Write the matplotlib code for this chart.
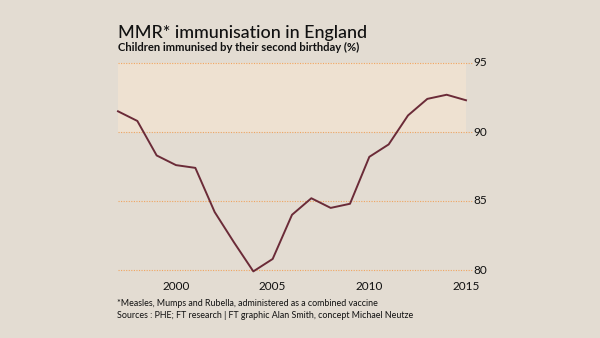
import matplotlib.pyplot as plt

# MMR immunisation by second birthday, England (%)
years = [1997, 1998, 1999, 2000, 2001, 2002, 2003, 2004, 2005, 2006,
         2007, 2008, 2009, 2010, 2011, 2012, 2013, 2014, 2015]
coverage = [91.5, 90.8, 88.3, 87.6, 87.4, 84.2, 82.0, 79.9, 80.8, 84.0,
            85.2, 84.5, 84.8, 88.2, 89.1, 91.2, 92.4, 92.7, 92.3]
yticks = [80, 85, 90, 95]
xticks = [2000, 2005, 2010, 2015]

bg = '#e3dcd2'
band = '#eee1d1'
line_col = '#6b2b38'
grid_col = '#f0a560'

plt.rcParams['font.family'] = ['Lato', 'DejaVu Sans']

fig = plt.figure(figsize=(6, 3.38), dpi=100, facecolor=bg)
ax = fig.add_axes([118 / 600, 1 - 270 / 338, 348 / 600, 207 / 338])
ax.set_facecolor(bg)

# target band 90-95
ax.axhspan(90, 95, color=band, zorder=0, lw=0)

for v in yticks:
    ax.axhline(v, xmin=0, xmax=1.017, color=grid_col, lw=0.8,
               linestyle=(0, (1, 1.3)), clip_on=False, zorder=1)
    ax.text(1.022, v, str(v), transform=ax.get_yaxis_transform(),
            ha='left', va='center', fontsize=8.5, color='#111111')

ax.plot(years, coverage, color=line_col, lw=1.4, clip_on=False, zorder=3)

ax.set_xlim(1997, 2015)
ax.set_ylim(80, 95)
ax.set_yticks([])
ax.set_xticks(xticks)
ax.set_xticklabels([str(x) for x in xticks], fontsize=8.5, color='#111111')
ax.tick_params(axis='x', length=0, pad=8)
for s in ax.spines.values():
    s.set_visible(False)

fig.text(118 / 600, 1 - 38 / 338, 'MMR* immunisation in England',
         fontsize=12.9, fontweight='medium', color='#111111', va='baseline', ha='left')
fig.text(118 / 600, 1 - 51 / 338, 'Children immunised by their second birthday (%)',
         fontsize=8.1, fontweight='bold', color='#111111', va='baseline', ha='left')
fig.text(117 / 600, 1 - 306 / 338,
         '*Measles, Mumps and Rubella, administered as a combined vaccine',
         fontsize=6.4, color='#111111', va='baseline', ha='left')
fig.text(117 / 600, 1 - 318 / 338,
         'Sources : PHE; FT research | FT graphic Alan Smith, concept Michael Neutze',
         fontsize=6.4, color='#111111', va='baseline', ha='left')

fig.savefig('out.png', dpi=100, facecolor=bg)
